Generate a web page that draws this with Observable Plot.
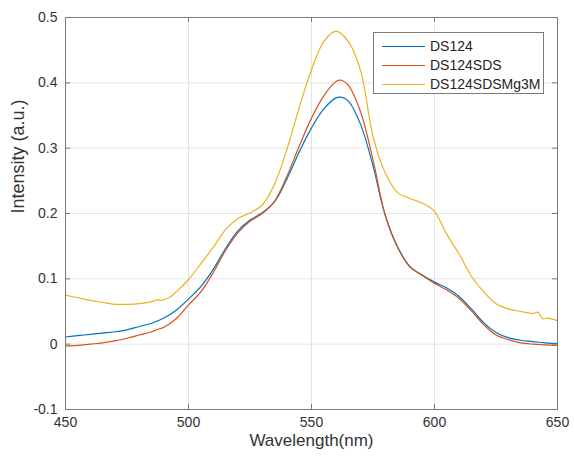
<!DOCTYPE html>
<html>
<head>
<meta charset="utf-8">
<script src="https://cdn.jsdelivr.net/npm/d3@7"></script>
<script src="https://cdn.jsdelivr.net/npm/@observablehq/plot@0.6"></script>
<style>
  html, body { margin: 0; padding: 0; background: #fff; }
  #wrap { position: relative; width: 574px; height: 458px; font-family: "Liberation Sans", Arial, sans-serif; }
  #legend { position: absolute; left: 373px; top: 32px; width: 171px; height: 62px; border: 1px solid #7a7a7a; background: #fff; box-sizing: border-box; }
  .item { position: absolute; left: 0; height: 18px; display: flex; align-items: center; font-size: 14px; color: #262626; }
  .swatch { width: 43px; height: 0; border-top: 1.3px solid; margin-left: 8px; margin-right: 5px; }
</style>
</head>
<body>
<div id="wrap"></div>
<script>
// ---- data ----
const seriesNames = ["DS124", "DS124SDS", "DS124SDSMg3M"];
const seriesColors = ["#0072BD", "#D95319", "#EDB120"];

const wavelengthDS124 = [450,455,460,465,470,475,480,485,490,495,500,505,510,515,520,525,530,535,540,545,550,555,560,562,565,570,575,580,585,590,595,600,605,610,615,620,625,630,635,640,645,650];
const intensityDS124 = [0.011,0.013,0.015,0.017,0.019,0.022,0.027,0.032,0.040,0.052,0.069,0.088,0.114,0.146,0.173,0.190,0.201,0.218,0.253,0.294,0.331,0.360,0.377,0.378,0.372,0.336,0.273,0.197,0.149,0.119,0.106,0.095,0.086,0.073,0.054,0.033,0.018,0.010,0.006,0.004,0.002,0.001];

const wavelengthDS124SDS = [450,455,460,465,470,475,480,485,487,490,495,500,505,510,515,520,525,530,535,540,545,550,555,560,562,565,570,575,580,585,590,595,600,605,610,615,620,625,630,635,640,645,650];
const intensityDS124SDS = [-0.003,-0.002,0.000,0.002,0.005,0.009,0.014,0.019,0.022,0.026,0.039,0.060,0.080,0.109,0.143,0.170,0.188,0.200,0.219,0.257,0.303,0.346,0.380,0.402,0.404,0.396,0.355,0.282,0.197,0.148,0.118,0.105,0.093,0.083,0.070,0.051,0.030,0.014,0.007,0.002,0.000,-0.001,-0.002];

const wavelengthDS124SDSMg3M = [450,455,460,465,470,475,480,485,487,489,492,495,500,505,510,515,520,525,530,535,540,545,550,555,560,565,570,575,580,585,590,595,600,605,610,615,620,625,630,635,640,642,644,646,650];
const intensityDS124SDSMg3M = [0.075,0.071,0.067,0.064,0.061,0.061,0.062,0.065,0.068,0.067,0.071,0.080,0.099,0.123,0.148,0.175,0.192,0.201,0.213,0.245,0.298,0.362,0.420,0.463,0.479,0.463,0.418,0.318,0.262,0.232,0.223,0.216,0.203,0.168,0.138,0.104,0.080,0.062,0.054,0.050,0.047,0.049,0.039,0.040,0.036];

const xTicks = [450, 500, 550, 600, 650];
const yTicks = [-0.1, 0, 0.1, 0.2, 0.3, 0.4, 0.5];
const xLabel = "Wavelength(nm)";
const yLabel = "Intensity (a.u.)";

// ---- build table ----
const xs = [wavelengthDS124, wavelengthDS124SDS, wavelengthDS124SDSMg3M];
const ys = [intensityDS124, intensityDS124SDS, intensityDS124SDSMg3M];
const rows = [];
seriesNames.forEach((name, i) => {
  xs[i].forEach((w, j) => rows.push({series: name, wavelength: w, intensity: ys[i][j]}));
});

const W = 574, H = 458, mL = 65, mR = 17, mT = 17, mB = 49;
const innerW = W - mL - mR, innerH = H - mT - mB;
const tickLen = 5;
const axisGray = "#7a7a7a";

const chart = Plot.plot({
  width: W, height: H,
  marginLeft: mL, marginRight: mR, marginTop: mT, marginBottom: mB,
  style: {fontFamily: '"Liberation Sans", Arial, sans-serif', color: "#333", background: "#fff"},
  x: {domain: [450, 650]},
  y: {domain: [-0.1, 0.5]},
  color: {domain: seriesNames, range: seriesColors},
  marks: [
    Plot.ruleX(xTicks, {stroke: "#e4e4e4", strokeWidth: 1}),
    Plot.ruleY(yTicks, {stroke: "#e4e4e4", strokeWidth: 1}),
    Plot.line(rows, {x: "wavelength", y: "intensity", z: "series", stroke: "series", strokeWidth: 1.2, curve: "catmull-rom"}),
    Plot.frame({stroke: axisGray, strokeWidth: 1}),
    Plot.ruleX(xTicks, {stroke: axisGray, insetTop: innerH - tickLen}),
    Plot.ruleX(xTicks, {stroke: axisGray, insetBottom: innerH - tickLen}),
    Plot.ruleY(yTicks, {stroke: axisGray, insetRight: innerW - tickLen}),
    Plot.ruleY(yTicks, {stroke: axisGray, insetLeft: innerW - tickLen}),
    Plot.axisX({ticks: xTicks, tickSize: 0, tickPadding: 8, fontSize: 14, label: null, tickFormat: d => String(d)}),
    Plot.axisY({ticks: yTicks, tickSize: 0, tickPadding: 8, fontSize: 14, label: null, tickFormat: d => String(d)}),
    Plot.text([xLabel], {text: d => d, frameAnchor: "bottom", dy: 36, fontSize: 17, fill: "#333"}),
    Plot.text([yLabel], {text: d => d, frameAnchor: "left", rotate: -90, dx: -47, fontSize: 18, fill: "#333"})
  ]
});

const wrap = document.getElementById("wrap");
wrap.appendChild(chart);

const legend = document.createElement("div");
legend.id = "legend";
seriesNames.forEach((name, i) => {
  const item = document.createElement("div");
  item.className = "item";
  item.style.top = (4 + i * 19) + "px";
  const sw = document.createElement("span");
  sw.className = "swatch";
  sw.style.borderTopColor = seriesColors[i];
  const label = document.createElement("span");
  label.textContent = name;
  item.appendChild(sw);
  item.appendChild(label);
  legend.appendChild(item);
});
wrap.appendChild(legend);
</script>
</body>
</html>
